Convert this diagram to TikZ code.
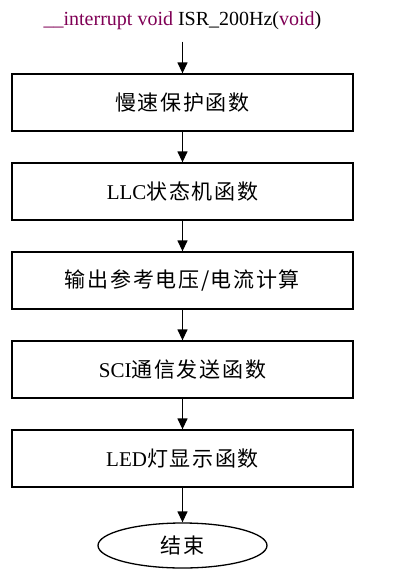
\documentclass[tikz,border=0pt]{standalone}
\usepackage{fontspec}
\setmainfont{Liberation Serif}
\newfontfamily\cjk[LetterSpace=8]{Noto Sans CJK SC}
\usetikzlibrary{arrows.meta, positioning, shapes.geometric}
\definecolor{keyword}{RGB}{127,0,85}

\begin{document}
\begin{tikzpicture}[x=1pt,y=-1pt,node distance=89pt,on grid,>={Triangle[length=11pt,width=10pt]},line width=1.3pt,
	func/.style={draw, rectangle, minimum width=341pt, minimum height=57pt, inner sep=0pt, font=\fontsize{21}{24}\selectfont},
	stop/.style={draw, ellipse, minimum width=169pt, minimum height=45pt, inner sep=0pt, font=\fontsize{21}{24}\selectfont}]

	\useasboundingbox (0,0) rectangle (416,582);

	\node (t0) [minimum height=40pt, inner sep=0pt, font=\fontsize{20}{22}\selectfont] at (182.5,21)
		{{\color{keyword}\_\_interrupt void} ISR\_200Hz({\color{keyword}void})};

	\node (b1) [func] at (182.5,102.5) {\cjk 慢速保护函数};
	\node (b2) [func, below of = b1] {LLC{\cjk 状态机函数}};
	\node (b3) [func, below of = b2] {\cjk 输出参考电压/电流计算};
	\node (b4) [func, below of = b3] {SCI{\cjk 通信发送函数}};
	\node (b5) [func, below of = b4] {LED{\cjk 灯显示函数}};
	\node (e0) [stop, below of = b5, node distance = 87pt] {\cjk 结束};

	\path [->]
	(t0) edge (b1)
	(b1) edge (b2)
	(b2) edge (b3)
	(b3) edge (b4)
	(b4) edge (b5)
	(b5) edge (e0);

\end{tikzpicture}
\end{document}
